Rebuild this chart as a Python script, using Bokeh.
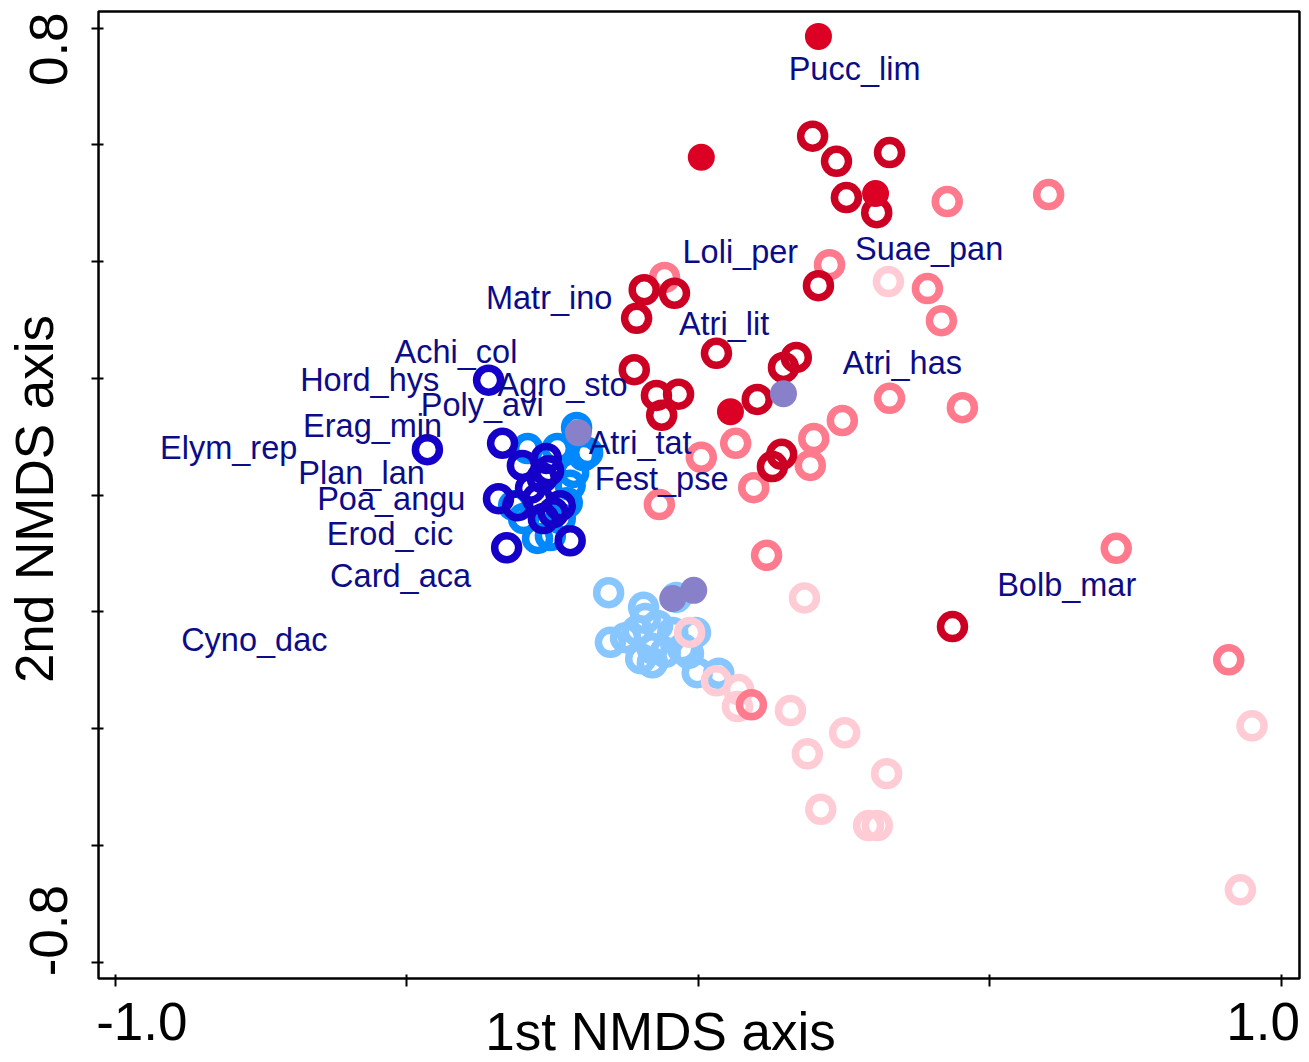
from bokeh.plotting import figure
from bokeh.models import Range1d, FixedTicker, LinearAxis, Label, ColumnDataSource, BoxAnnotation
from bokeh.core.properties import value
from bokeh.embed import file_html
from bokeh.resources import INLINE

# ---------------- data (NMDS scores) ----------------
dark_red_x = [0.196, 0.237, 0.328, 0.254, 0.306, 0.206, -0.093, -0.041, -0.106, 0.031,
              -0.110, -0.072, -0.034, -0.063, 0.101, 0.146, 0.168, 0.143, 0.127, 0.436]
dark_red_y = [0.615, 0.572, 0.587, 0.510, 0.484, 0.359, 0.352, 0.346, 0.303, 0.243,
              0.215, 0.171, 0.173, 0.137, 0.164, 0.219, 0.236, 0.070, 0.049, -0.225]

red_fill_x = [0.206, 0.005, 0.304, 0.055]
red_fill_y = [0.786, 0.579, 0.517, 0.143]

salmon_x = [0.427, 0.601, -0.058, 0.225, 0.393, 0.417, 0.328, 0.453, 0.247, 0.198,
            0.064, 0.005, 0.192, 0.095, -0.067, 0.117, 0.717, 0.910, 0.091]
salmon_y = [0.503, 0.515, 0.373, 0.395, 0.354, 0.299, 0.166, 0.150, 0.128, 0.097,
            0.089, 0.065, 0.051, 0.013, -0.016, -0.103, -0.091, -0.282, -0.359]

pink_x = [0.326, 0.182, -0.015, 0.031, 0.069, 0.067, 0.158, 0.251, 0.187, 0.323,
          0.210, 0.292, 0.307, 0.950, 0.930]
pink_y = [0.366, -0.176, -0.235, -0.318, -0.333, -0.362, -0.369, -0.407, -0.443, -0.477,
          -0.538, -0.566, -0.566, -0.395, -0.676]

dark_blue_x = [-0.360, -0.465, -0.336, -0.329, -0.220, -0.343, -0.302, -0.261, -0.268, -0.288,
               -0.310, -0.276, -0.249, -0.266, -0.237, -0.257]
dark_blue_y = [0.197, 0.078, 0.089, -0.090, -0.078, -0.006, 0.051, 0.063, 0.030, 0.012,
               -0.018, -0.006, -0.030, -0.040, -0.018, 0.042]

mid_blue_x = [-0.209, -0.190, -0.242, -0.214, -0.220, -0.225, -0.237, -0.300, -0.317, -0.276,
              -0.254, -0.197, -0.293]
mid_blue_y = [0.116, 0.073, 0.080, 0.039, 0.017, -0.013, -0.040, -0.040, -0.018, -0.074,
              -0.069, 0.068, 0.080]

light_blue_x = [-0.154, -0.094, -0.038, -0.151, -0.125, -0.105, -0.099, -0.079, -0.070, -0.057,
                -0.044, -0.027, -0.005, -0.002, -0.017, 0.035, -0.079, -0.091]
light_blue_y = [-0.167, -0.192, -0.175, -0.252, -0.244, -0.232, -0.280, -0.263, -0.223, -0.269,
                -0.235, -0.263, -0.235, -0.304, -0.271, -0.305, -0.287, -0.211]

purple_x = [-0.206, 0.146, -0.044, -0.008]
purple_y = [0.107, 0.174, -0.177, -0.163]

species = ["Pucc_lim", "Loli_per", "Suae_pan", "Matr_ino", "Atri_lit", "Achi_col",
           "Hord_hys", "Agro_sto", "Poly_avi", "Erag_min", "Elym_rep", "Atri_tat",
           "Plan_lan", "Fest_pse", "Poa_angu", "Erod_cic", "Card_aca", "Cyno_dac",
           "Atri_has", "Bolb_mar"]
species_x = [0.268, 0.072, 0.396, -0.256, 0.044, -0.416, -0.564, -0.233, -0.371, -0.559,
             -0.806, -0.100, -0.578, -0.063, -0.527, -0.529, -0.511, -0.762, 0.350, 0.632]
species_y = [0.730, 0.416, 0.421, 0.338, 0.294, 0.246, 0.198, 0.188, 0.155, 0.118,
             0.081, 0.090, 0.038, 0.028, -0.006, -0.067, -0.139, -0.248, 0.226, -0.153]

x_ticks = [-1.0, -0.5, 0.0, 0.5, 1.0]
y_ticks = [-0.8, -0.6, -0.4, -0.2, 0.0, 0.2, 0.4, 0.6, 0.8]
x_tick_label_text = ["-1.0", "1.0"]
x_tick_label_pos = [-0.955, 0.969]
y_tick_label_text = ["-0.8", "0.8"]
y_tick_label_pos = [-0.746, 0.764]

x_title = "1st NMDS axis"
y_title = "2nd NMDS axis"

# ---------------- layout / styling ----------------
FONT = "Liberation Sans"
C_DARK_RED = "#CC0022"
C_RED_FILL = "#DC0024"
C_SALMON = "#FF7A8C"
C_PINK = "#FFCCD5"
C_DARK_BLUE = "#1400C8"
C_MID_BLUE = "#0088FF"
C_LIGHT_BLUE = "#88C6FF"
C_PURPLE = "#8880C8"
C_TEXT = "#0C0C88"

RING_SIZE = 24
RING_LW = 7.5
DOT_SIZE = 27

# plotting box (data units) and the visible canvas extent around it
BOX_L, BOX_R, BOX_B, BOX_T = -1.0293, 1.0314, -0.8279, 0.8286
VIEW_X = (-1.1975, 1.0486)
VIEW_Y = (-0.9718, 0.8475)
X_TITLE_POS = (-0.065, -0.9190)
Y_TITLE_POS = (-1.1400, -0.0065)

p = figure(width=1309, height=1062,
           x_range=Range1d(*VIEW_X), y_range=Range1d(*VIEW_Y),
           output_backend="svg", toolbar_location=None, title=None,
           min_border=0, min_border_left=0, min_border_right=0,
           min_border_top=0, min_border_bottom=0)
p.background_fill_color = "white"
p.border_fill_color = "white"
p.outline_line_color = None
p.xgrid.visible = False
p.ygrid.visible = False

p.add_layout(BoxAnnotation(left=BOX_L, right=BOX_R, bottom=BOX_B, top=BOX_T,
                           fill_color=None, fill_alpha=0, line_color="black",
                           line_width=2.5, line_alpha=1.0))

# tick-only axes pinned to the box edges
xa = p.xaxis[0]
xa.fixed_location = BOX_B
xa.ticker = FixedTicker(ticks=x_ticks)
xa.major_tick_in = 4
xa.major_tick_out = 8
xa.major_tick_line_width = 2
xa.major_tick_line_color = "black"
xa.minor_tick_line_color = None
xa.major_label_text_color = None
xa.axis_line_color = None

ya = p.yaxis[0]
ya.fixed_location = BOX_L
ya.ticker = FixedTicker(ticks=y_ticks)
ya.major_tick_in = 5
ya.major_tick_out = 7
ya.major_tick_line_width = 2
ya.major_tick_line_color = "black"
ya.minor_tick_line_color = None
ya.major_label_text_color = None
ya.axis_line_color = None

# label-only axes
xl = LinearAxis(fixed_location=BOX_B, ticker=FixedTicker(ticks=x_tick_label_pos),
                major_label_overrides=dict(zip(x_tick_label_pos, x_tick_label_text)),
                axis_line_color=None, major_tick_line_color=None, minor_tick_line_color=None,
                major_tick_in=0, major_tick_out=0, major_label_standoff=25,
                major_label_text_font=FONT, major_label_text_font_size="53px",
                major_label_text_color="black")
p.add_layout(xl, "below")

yl = LinearAxis(fixed_location=BOX_L, ticker=FixedTicker(ticks=y_tick_label_pos),
                major_label_overrides=dict(zip(y_tick_label_pos, y_tick_label_text)),
                axis_line_color=None, major_tick_line_color=None, minor_tick_line_color=None,
                major_tick_in=0, major_tick_out=0, major_label_standoff=32,
                major_label_orientation="vertical",
                major_label_text_font=FONT, major_label_text_font_size="53px",
                major_label_text_color="black")
p.add_layout(yl, "left")

# ---------------- points ----------------
def rings(xs, ys, color):
    p.scatter(xs, ys, marker="circle", size=RING_SIZE, fill_color=None,
              line_color=color, line_width=RING_LW)

rings(light_blue_x, light_blue_y, C_LIGHT_BLUE)
rings(pink_x, pink_y, C_PINK)
rings(salmon_x, salmon_y, C_SALMON)
rings(dark_red_x, dark_red_y, C_DARK_RED)
rings(mid_blue_x, mid_blue_y, C_MID_BLUE)
rings(dark_blue_x, dark_blue_y, C_DARK_BLUE)
p.scatter(red_fill_x, red_fill_y, marker="circle", size=DOT_SIZE, fill_color=C_RED_FILL, line_color=None)
p.scatter(purple_x, purple_y, marker="circle", size=DOT_SIZE, fill_color=C_PURPLE, line_color=None)

src = ColumnDataSource(dict(x=species_x, y=species_y, name=species))
p.text(x="x", y="y", text="name", source=src, text_font=value(FONT),
       text_font_size=value("32.5px"), text_color=C_TEXT,
       text_align="center", text_baseline="middle")

# ---------------- axis titles ----------------
p.add_layout(Label(x=X_TITLE_POS[0], y=X_TITLE_POS[1], text=x_title, text_font=FONT,
                   text_font_size="53px", text_align="center", text_baseline="middle",
                   text_color="black"))
p.add_layout(Label(x=Y_TITLE_POS[0], y=Y_TITLE_POS[1], text=y_title, text_font=FONT,
                   text_font_size="53px", text_align="center", text_baseline="middle",
                   angle=90, angle_units="deg", text_color="black"))

open("out.html", "w").write(file_html(p, INLINE))
